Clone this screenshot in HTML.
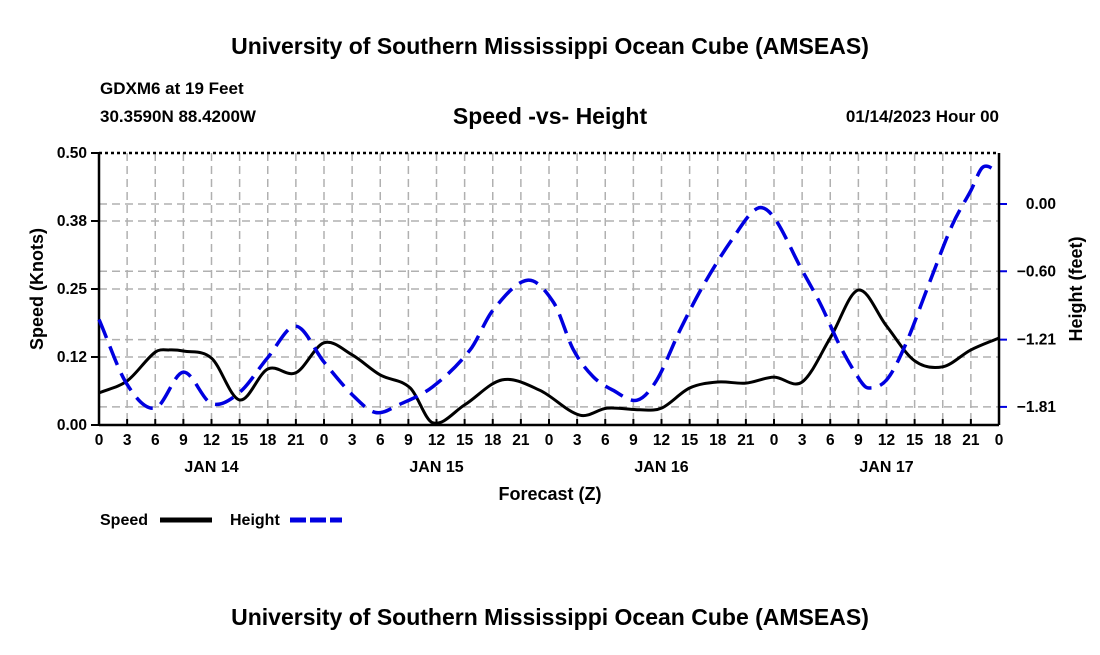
<!DOCTYPE html>
<html><head><meta charset="utf-8"><style>
body{margin:0;background:#fff;width:1100px;height:650px;overflow:hidden;font-family:"Liberation Sans",sans-serif}
svg text{font-family:"Liberation Sans",sans-serif;font-weight:bold;fill:#000}
</style></head><body>
<svg id="c" width="1100" height="650">
<text x="550" y="54" font-size="23" text-anchor="middle">University of Southern Mississippi Ocean Cube (AMSEAS)</text>
<text x="100" y="94" font-size="17">GDXM6 at 19 Feet</text>
<text x="100" y="122" font-size="17">30.3590N  88.4200W</text>
<text x="550" y="124" font-size="23" text-anchor="middle">Speed -vs- Height</text>
<text x="999" y="122" font-size="17" text-anchor="end">01/14/2023 Hour 00</text>
<text x="550" y="625" font-size="23" text-anchor="middle">University of Southern Mississippi Ocean Cube (AMSEAS)</text>
<g id="grid"></g><g id="axes"></g><g id="series"></g>
<text x="550" y="500" font-size="18" text-anchor="middle">Forecast (Z)</text>
<text transform="translate(43,289) rotate(-90)" font-size="18" text-anchor="middle">Speed (Knots)</text>
<text transform="translate(1082,289) rotate(-90)" font-size="18" text-anchor="middle">Height (feet)</text>
<g>
<text x="100" y="525" font-size="16">Speed</text>
<line x1="160" y1="520" x2="212" y2="520" stroke="#000" stroke-width="5"/>
<text x="230" y="525" font-size="16">Height</text>
<line x1="290" y1="520" x2="342" y2="520" stroke="#0000e0" stroke-width="5" stroke-dasharray="16,4"/>
</g>
</svg>
<script>
const speedHours=[0,3,6,7.5,9,12,15,18,21,24,27,30,33.2,35.6,39,43,47,51.3,54.2,57.7,60,63,66,69,72,75,78,81,84,87,90,93,96];
const speedValues=[0.059,0.081,0.134,0.138,0.136,0.123,0.046,0.103,0.096,0.151,0.129,0.092,0.068,0.004,0.037,0.083,0.064,0.018,0.031,0.028,0.031,0.068,0.079,0.077,0.088,0.079,0.16,0.248,0.182,0.118,0.107,0.138,0.16];
const heightHours=[0,3,6,9,12,15,18,21,24,27,29.5,32,35.6,39.6,42,45.7,48.5,50.6,52.7,54.8,57.4,59.5,62,64.5,67.5,70.2,72,74.8,77,79,81,82,84,86,88.5,91,93,94.3,96];
const heightValues=[-1.03,-1.61,-1.82,-1.50,-1.78,-1.68,-1.37,-1.09,-1.41,-1.70,-1.86,-1.79,-1.63,-1.30,-0.95,-0.68,-0.88,-1.30,-1.54,-1.66,-1.75,-1.57,-1.12,-0.72,-0.32,-0.04,-0.12,-0.56,-0.90,-1.26,-1.55,-1.64,-1.57,-1.26,-0.72,-0.19,0.12,0.33,0.28];
const leftTicks=[0,0.125,0.25,0.375,0.5];
const leftTickLabels=["0.00","0.12","0.25","0.38","0.50"];
const rightTicks=[-1.81,-1.21,-0.60,0.00];
const rightTickLabels=["\u22121.81","\u22121.21","\u22120.60","0.00"];
const xTickHours=[];for(let h=0;h<=96;h+=3)xTickHours.push(h);
const dayLabels=["JAN 14","JAN 15","JAN 16","JAN 17"];
const dayLabelHours=[12,36,60,84];

const L=99,R=999,T=153,B=425,NS="http://www.w3.org/2000/svg";
const xS=h=>L+h*(R-L)/96;
const yL=v=>B-v*(B-T)/0.5;
const yR=v=>204-v*112.1;
function mk(tag,attrs,parent){const e=document.createElementNS(NS,tag);for(const k in attrs)e.setAttribute(k,attrs[k]);parent.appendChild(e);return e;}
const grid=document.getElementById('grid'),axes=document.getElementById('axes'),ser=document.getElementById('series');
xTickHours.forEach((h,i)=>{
 const x=xS(h);
 if(i>0&&i<xTickHours.length-1){const g=mk('line',{x1:x,y1:T,x2:x,y2:B,stroke:'#b0b0b0','stroke-width':1.5,'stroke-dasharray':'8,5'},grid);
 
 }
 const t=mk('line',{x1:x,y1:B,x2:x,y2:B-6,stroke:'#000','stroke-width':2},axes);
 
 
 const lb=mk('text',{x:x,y:B+20,'font-size':15.5,'text-anchor':'middle'},axes);lb.textContent=String(h%24);
 
 
});
dayLabels.forEach((d,i)=>{const t=mk('text',{x:xS(dayLabelHours[i]),y:B+47,'font-size':16,'text-anchor':'middle'},axes);t.textContent=d;
 
 });
leftTicks.forEach((v,i)=>{const y=yL(v);
 if(i>0&&i<leftTicks.length-1){const g=mk('line',{x1:L,y1:y,x2:R,y2:y,stroke:'#b0b0b0','stroke-width':1.5,'stroke-dasharray':'8,5'},grid);
 
 }
 const t=mk('line',{x1:L-8,y1:y,x2:L,y2:y,stroke:'#000','stroke-width':2},axes);
 
 
 const lb=mk('text',{x:L-12,y:y+5,'font-size':15.5,'text-anchor':'end'},axes);lb.textContent=leftTickLabels[i];
 
 });
rightTicks.forEach((v,i)=>{const y=yR(v);
 const g=mk('line',{x1:L,y1:y,x2:R,y2:y,stroke:'#b0b0b0','stroke-width':1.5,'stroke-dasharray':'8,5'},grid);
 
 
 const t=mk('line',{x1:R,y1:y,x2:R+8,y2:y,stroke:'#0000e0','stroke-width':2},axes);
 
 
 const lb=mk('text',{x:R+57,y:y+5,'font-size':15.5,'text-anchor':'end'},axes);lb.textContent=rightTickLabels[i];
 
 });
const fr=[[L,T,L,B,'none'],[L,B,R,B,'none'],[R,T,R,B,'none'],[L,T,R,T,'3,3']];
fr.forEach(f=>{const l=mk('line',{x1:f[0],y1:f[1],x2:f[2],y2:f[3],stroke:'#000','stroke-width':2.5},axes);
 if(f[4]!=='none')l.setAttribute('stroke-dasharray',f[4]);
 
 });
function smooth(p){const n=p.length,m=[];
 for(let i=0;i<n;i++){const a=p[Math.max(0,i-1)],b=p[Math.min(n-1,i+1)];m.push((b[1]-a[1])/(b[0]-a[0]));}
 let d='M'+p[0][0]+','+p[0][1];
 for(let i=0;i<n-1;i++){const dx=(p[i+1][0]-p[i][0])/3;
 d+=' C'+(p[i][0]+dx)+','+(p[i][1]+m[i]*dx)+' '+(p[i+1][0]-dx)+','+(p[i+1][1]-m[i+1]*dx)+' '+p[i+1][0]+','+p[i+1][1];}
 return d;}
const sp=mk('path',{d:smooth(speedHours.map((h,i)=>[xS(h),yL(speedValues[i])])),fill:'none',stroke:'#000','stroke-width':3},ser);


const hp=mk('path',{d:smooth(heightHours.map((h,i)=>[xS(h),yR(heightValues[i])])),fill:'none',stroke:'#0000e0','stroke-width':3.5,'stroke-dasharray':'20,9'},ser);


</script>
</body></html>
